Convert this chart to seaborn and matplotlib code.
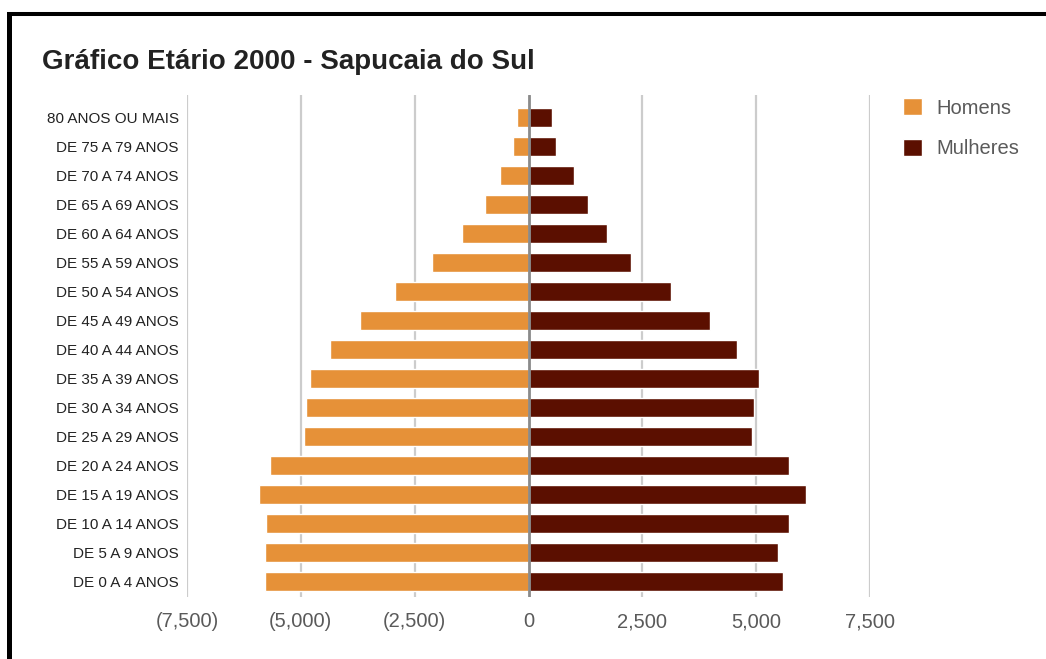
import pandas as pd
import numpy as np
import matplotlib.pyplot as plt
import seaborn as sns
from matplotlib.ticker import FuncFormatter, FixedLocator
from matplotlib.lines import Line2D

faixas = ['80 ANOS OU MAIS', 'DE 75 A 79 ANOS', 'DE 70 A 74 ANOS', 'DE 65 A 69 ANOS',
          'DE 60 A 64 ANOS', 'DE 55 A 59 ANOS', 'DE 50 A 54 ANOS', 'DE 45 A 49 ANOS',
          'DE 40 A 44 ANOS', 'DE 35 A 39 ANOS', 'DE 30 A 34 ANOS', 'DE 25 A 29 ANOS',
          'DE 20 A 24 ANOS', 'DE 15 A 19 ANOS', 'DE 10 A 14 ANOS', 'DE 5 A 9 ANOS',
          'DE 0 A 4 ANOS']
homens = [260, 330, 615, 945, 1450, 2110, 2940, 3710, 4370, 4790, 4880, 4940,
          5670, 5920, 5760, 5780, 5780]
mulheres = [520, 600, 1000, 1305, 1730, 2250, 3135, 3985, 4590, 5060, 4960, 4905,
            5725, 6100, 5725, 5475, 5595]
ticks = [-7500, -5000, -2500, 0, 2500, 5000, 7500]

df = pd.DataFrame({
    'faixa': faixas * 2,
    'sexo': ['Homens'] * len(faixas) + ['Mulheres'] * len(faixas),
    'valor': [-v for v in homens] + mulheres,
})

sns.set_style('white')
plt.rcParams['font.family'] = ['Liberation Sans', 'DejaVu Sans']

fig = plt.figure(figsize=(10.46, 6.59), dpi=100)
ax = fig.add_axes([187 / 1046, 1 - 597 / 659, (870 - 187) / 1046, (597 - 95) / 659])

sns.barplot(data=df, y='faixa', x='valor', hue='sexo', order=faixas, dodge=False,
            palette={'Homens': '#e69138', 'Mulheres': '#5b0f00'}, saturation=1,
            width=0.655, orient='h', ax=ax, zorder=3)

ax.set_xlim(-7500, 7500)
ax.set_ylim(16.52, -0.786)
ax.xaxis.set_major_locator(FixedLocator(ticks))
ax.xaxis.set_major_formatter(FuncFormatter(
    lambda v, p: '0' if v == 0 else (f'({abs(v):,.0f})' if v < 0 else f'{v:,.0f}')))
for t in ticks:
    if t == 0:
        ax.axvline(t, color='#8a8a8a', lw=2, zorder=4)
    else:
        ax.axvline(t, color='#cccccc', lw=1.6, zorder=1)
for s in ax.spines.values():
    s.set_visible(False)
ax.set_xlabel('')
ax.set_ylabel('')
ax.tick_params(axis='x', length=0, pad=11, labelsize=14.5, labelcolor='#5a5a5a')
ax.tick_params(axis='y', length=0, pad=6, labelsize=11, labelcolor='#222222')

handles, labels = ax.get_legend_handles_labels()
ax.legend(handles, labels, loc='upper left', bbox_to_anchor=(903 / 1046, 1 - 98 / 659),
          bbox_transform=fig.transFigure, frameon=False, fontsize=14.5,
          handlelength=0.95, handleheight=0.95, handletextpad=0.7, labelspacing=1.05,
          borderpad=0, borderaxespad=0, labelcolor='#5a5a5a')

fig.text(42 / 1046, 1 - 62 / 659, 'Gráfico Etário 2000 - Sapucaia do Sul',
         fontsize=20, fontweight='bold', color='#222222', va='center', ha='left')

fig.add_artist(Line2D([7 / 1046, 1], [1 - 14 / 659, 1 - 14 / 659], color='black',
                      lw=2.9, solid_capstyle='butt', transform=fig.transFigure))
fig.add_artist(Line2D([9 / 1046, 9 / 1046], [0, 1 - 12 / 659], color='black',
                      lw=3.6, solid_capstyle='butt', transform=fig.transFigure))

fig.savefig('out.png', dpi=100)
